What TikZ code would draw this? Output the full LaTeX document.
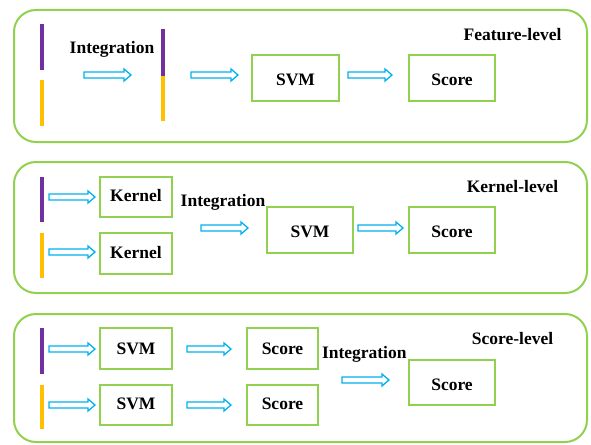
\documentclass[tikz,border=0pt]{standalone}
\usepackage{fontspec}
\setmainfont{Liberation Serif}
\definecolor{pgreen}{HTML}{92D050}
\definecolor{pcyan}{HTML}{00B0F0}
\definecolor{ppurple}{HTML}{7030A0}
\definecolor{pyellow}{HTML}{FFC000}
\tikzset{
  panel/.style={draw=pgreen,line width=2pt,rounded corners=22pt},
  box/.style={draw=pgreen,line width=2pt,fill=white,inner sep=0pt,
    font=\fontsize{17.5}{20}\selectfont\bfseries,text height=15pt,text depth=0pt},
  sbox/.style={box,text height=9pt},
  lbl/.style={font=\fontsize{17.5}{20}\selectfont\bfseries,anchor=base,inner sep=0pt},
  pbar/.style={draw=ppurple,line width=4pt},
  ybar/.style={draw=pyellow,line width=4pt},
  hollow/.style={draw=pcyan,line width=1.3pt,line join=miter,
    to path={([yshift=3pt]\tikztostart) -- ([xshift=-7pt,yshift=3pt]\tikztotarget)
      -- ([xshift=-7pt,yshift=6pt]\tikztotarget) -- (\tikztotarget)
      -- ([xshift=-7pt,yshift=-6pt]\tikztotarget) -- ([xshift=-7pt,yshift=-3pt]\tikztotarget)
      -- ([yshift=-3pt]\tikztostart) -- cycle}}
}
\begin{document}
\begin{tikzpicture}[x=1pt,y=-1pt]
\useasboundingbox (0,0) rectangle (591,444);
% panels
\draw[panel] (14,10) rectangle (587,142);
\draw[panel] (14,162) rectangle (587,293);
\draw[panel] (14,314) rectangle (587,442);

% ---------- Panel 1: Feature-level
\draw[pbar] (42,24) -- (42,70);
\draw[ybar] (42,80) -- (42,126);
\draw[pbar] (163,29) -- (163,76);
\draw[ybar] (163,76) -- (163,121);
\node[lbl] (int1) at (112,53) {Integration};
\node[lbl] (lev1) at (512.5,41) {Feature-level};
\node[box,minimum width=87pt,minimum height=46pt] (svm1) at (295.5,78) {SVM};
\node[box,minimum width=86pt,minimum height=46pt] (sc1) at (452,78) {Score};
\coordinate (a1s) at (84,75);  \coordinate (a1e) at (131,75);
\coordinate (a2s) at (191,75); \coordinate (a2e) at (238,75);
\draw[hollow] (a1s) to (a1e);
\draw[hollow] (a2s) to (a2e);
\draw[hollow] ([xshift=8pt]svm1.east|-a1s) to ([xshift=-16pt]sc1.west|-a1s);

% ---------- Panel 2: Kernel-level
\draw[pbar] (42,177) -- (42,222);
\draw[ybar] (42,233) -- (42,278);
\node[sbox,minimum width=72pt,minimum height=40pt] (k1) at (136,197) {Kernel};
\node[sbox,minimum width=72pt,minimum height=41pt] (k2) at (136,253.5) {Kernel};
\node[lbl] (int2) at (223,206) {Integration};
\node[lbl] (lev2) at (512.5,192.7) {Kernel-level};
\node[box,minimum width=86pt,minimum height=46pt] (svm2) at (310,230) {SVM};
\node[box,minimum width=86pt,minimum height=46pt] (sc2) at (452,230) {Score};
\coordinate (b1s) at (49,197);  \coordinate (b2s) at (49,252);
\coordinate (b3s) at (201,228); \coordinate (b3e) at (248,228);
\draw[hollow] (b1s) to ([xshift=-4pt]k1.west|-b1s);
\draw[hollow] (b2s) to ([xshift=-4pt]k2.west|-b2s);
\draw[hollow] (b3s) to (b3e);
\draw[hollow] ([xshift=4pt]svm2.east|-b3s) to ([xshift=-5pt]sc2.west|-b3s);

% ---------- Panel 3: Score-level
\draw[pbar] (42,328) -- (42,374);
\draw[ybar] (42,385) -- (42,429);
\node[sbox,minimum width=72pt,minimum height=41pt,text height=11pt] (s1) at (136,348.5) {SVM};
\node[sbox,minimum width=72pt,minimum height=40pt] (s2) at (136,405) {SVM};
\node[sbox,minimum width=71pt,minimum height=41pt,text height=11pt] (t1) at (282.5,348.5) {Score};
\node[sbox,minimum width=71pt,minimum height=40pt] (t2) at (282.5,405) {Score};
\node[lbl] (int3) at (364.3,358.3) {Integration};
\node[lbl] (lev3) at (512.5,344.3) {Score-level};
\node[box,minimum width=86pt,minimum height=45pt] (sc3) at (452,382.5) {Score};
\coordinate (c1s) at (49,349); \coordinate (c2s) at (49,405);
\coordinate (c5s) at (342,380); \coordinate (c5e) at (389,380);
\draw[hollow] (c1s) to ([xshift=-4pt]s1.west|-c1s);
\draw[hollow] (c2s) to ([xshift=-4pt]s2.west|-c2s);
\draw[hollow] ([xshift=14pt]s1.east|-c1s) to ([xshift=-15pt]t1.west|-c1s);
\draw[hollow] ([xshift=14pt]s2.east|-c2s) to ([xshift=-15pt]t2.west|-c2s);
\draw[hollow] (c5s) to (c5e);
\end{tikzpicture}
\end{document}
